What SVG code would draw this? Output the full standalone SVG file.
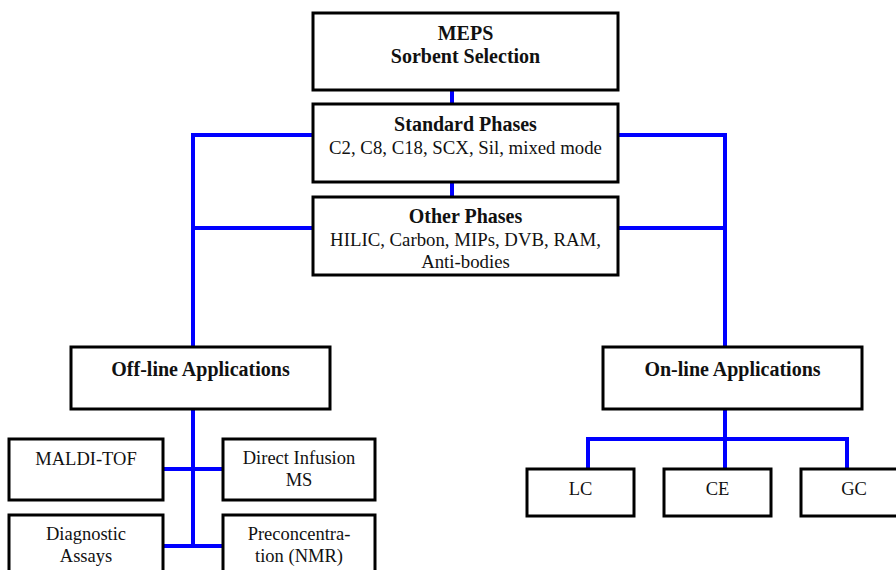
<svg xmlns="http://www.w3.org/2000/svg" width="896" height="570" viewBox="0 0 896 570">
<style>
.box{fill:#fff;stroke:#000;stroke-width:3}
.c{fill:none;stroke:#0000ff;stroke-width:4}
text{font-family:"Liberation Serif","Times New Roman",serif;fill:#111;text-anchor:middle}
.b{font-weight:bold;font-size:20px}
.r{font-size:18.5px}
.m{font-size:18.8px}
</style>
<rect width="896" height="570" fill="#fff"/>
<g id="connectors">
<path class="c" d="M452 90V104M452 182V197"/>
<path class="c" d="M313 135H193V347M313 228H193"/>
<path class="c" d="M618 135H725V347M618 228H725"/>
<path class="c" d="M193 409V546M163 469H223M163 546H223"/>
<path class="c" d="M725 409V469M588 469V439H847V469"/>
</g>
<g id="meps"><rect class="box" x="313" y="13" width="305" height="77"/>
<text class="b" x="465.5" y="40">MEPS</text><text class="b" x="465.5" y="63">Sorbent Selection</text></g>
<g id="standard"><rect class="box" x="313" y="104" width="305" height="78"/>
<text class="b" x="465.5" y="131">Standard Phases</text><text class="m" x="465.5" y="153.5">C2, C8, C18, SCX, Sil, mixed mode</text></g>
<g id="other"><rect class="box" x="313" y="197" width="305" height="78"/>
<text class="b" x="465.5" y="223">Other Phases</text><text class="m" x="465.5" y="245.5">HILIC, Carbon, MIPs, DVB, RAM,</text><text class="m" x="465.5" y="267.5">Anti-bodies</text></g>
<g id="offline"><rect class="box" x="71" y="347" width="259" height="62"/>
<text class="b" x="200.5" y="376">Off-line Applications</text></g>
<g id="online"><rect class="box" x="603" y="347" width="259" height="62"/>
<text class="b" x="732.5" y="376">On-line Applications</text></g>
<g id="maldi"><rect class="box" x="9" y="439" width="154" height="61"/>
<text class="r" x="86" y="465">MALDI-TOF</text></g>
<g id="direct"><rect class="box" x="223" y="439" width="152" height="61"/>
<text class="r" x="299" y="464">Direct Infusion</text><text class="r" x="299" y="486">MS</text></g>
<g id="diagnostic"><rect class="box" x="9" y="515" width="154" height="70"/>
<text class="r" x="86" y="540">Diagnostic</text><text class="r" x="86" y="562">Assays</text></g>
<g id="precon"><rect class="box" x="223" y="515" width="152" height="70"/>
<text class="r" x="299" y="540">Preconcentra-</text><text class="r" x="299" y="562">tion (NMR)</text></g>
<g id="lc"><rect class="box" x="527" y="469" width="107" height="47"/>
<text class="r" x="580.5" y="495">LC</text></g>
<g id="ce"><rect class="box" x="664" y="469" width="107" height="47"/>
<text class="r" x="717.5" y="495">CE</text></g>
<g id="gc"><rect class="box" x="801" y="469" width="107" height="47"/>
<text class="r" x="854" y="495">GC</text></g>
</svg>
